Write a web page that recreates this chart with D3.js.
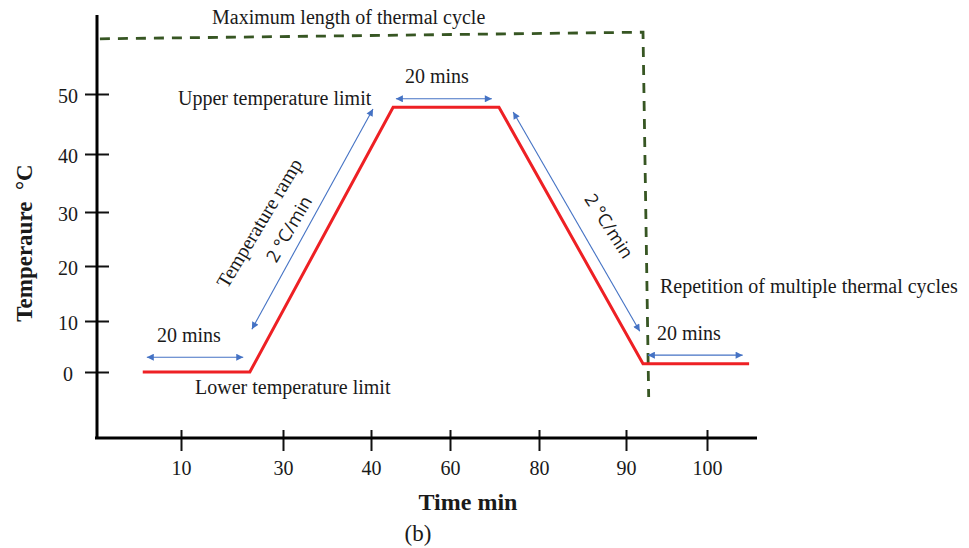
<!DOCTYPE html>
<html>
<head>
<meta charset="utf-8">
<script src="https://cdn.jsdelivr.net/npm/d3@7"></script>
<style>
  body { margin: 0; background: #fff; }
  text { font-family: "Liberation Serif", "Times New Roman", serif; fill: #1a1a1a; }
</style>
</head>
<body>
<div id="main"></div>
<script>
// ---- data (in axis units) ----
var xTickLabels = [10, 30, 40, 60, 80, 90, 100];
var yTickValues = [0, 10, 20, 30, 40, 50];

// the thermal cycle profile (red)
var profileTime = [2.5, 23.5, 45.6, 71.0, 92.1, 105.2];
var profileTemp = [0, 0, 47.8, 47.8, 1.6, 1.6];

// the dashed "maximum length" frame (green)
var cycleTime = [-5.9, 92.1, 92.8];
var cycleTemp = [59.2, 60.3, -4.9];

// double headed blue arrows: [t1, T1, t2, T2]
var arrows = [
    [3.3, 2.9, 22.2, 2.9],
    [23.9, 8.4, 40.5, 47.5],
    [46.3, 49.2, 69.4, 49.2],
    [74.2, 47.0, 91.7, 8.0],
    [92.7, 3.3, 104.4, 3.3]
];

var ctx = {
    w: 969,
    h: 548,
    // the hand drawn axis is not evenly spaced, so the scales are piecewise
    xTickPos: [181, 283, 371, 450, 539, 626, 707],
    yTickPos: [372, 321, 266, 212, 154, 94],
    left: 97,
    right: 757,
    top: 15,
    bottom: 438,
    red: "#ee2024",
    blue: "#4472c4",
    green: "#375623"
};

var createChart = function(svg) {
    var x = d3.scaleLinear().domain(xTickLabels).range(ctx.xTickPos);
    var y = d3.scaleLinear().domain(yTickValues).range(ctx.yTickPos);

    // 1. arrow head marker
    svg.append("defs").append("marker")
        .attr("id", "head")
        .attr("viewBox", "0 0 10 10")
        .attr("refX", 10)
        .attr("refY", 5)
        .attr("markerWidth", 8)
        .attr("markerHeight", 7)
        .attr("markerUnits", "userSpaceOnUse")
        .attr("orient", "auto-start-reverse")
        .append("path")
        .attr("d", "M0,0 L10,5 L0,10 z")
        .style("fill", ctx.blue);

    // 2. axes
    // 2.a x axis, ticks cross the line
    var gx = svg.append("g")
        .attr("transform", "translate(0," + ctx.bottom + ")")
        .call(d3.axisBottom(x).tickValues(xTickLabels).tickSizeInner(13).tickSizeOuter(0));
    gx.select(".domain").remove();
    gx.selectAll(".tick line").attr("y1", -8).style("stroke", "#111").style("stroke-width", 2);
    gx.selectAll(".tick text")
        .attr("y", 37).attr("dy", 0)
        .style("font-size", "20px")
        .style("font-family", "Liberation Serif");

    // 2.b y axis
    var gy = svg.append("g")
        .attr("transform", "translate(" + ctx.left + ",0)")
        .call(d3.axisLeft(y).tickValues(yTickValues).tickSizeInner(12).tickSizeOuter(0));
    gy.select(".domain").remove();
    gy.selectAll(".tick line").attr("x1", 12).style("stroke", "#111").style("stroke-width", 2);
    gy.selectAll(".tick text")
        .attr("x", -29).attr("dy", "0.4em")
        .style("text-anchor", "middle")
        .style("font-size", "20px")
        .style("font-family", "Liberation Serif");

    // 2.c the two thick axis lines
    svg.append("path")
        .attr("d", "M" + ctx.left + "," + ctx.top + "V" + (ctx.bottom + 1.5) + "M" + (ctx.left - 2) + "," + ctx.bottom + "H" + ctx.right)
        .style("fill", "none")
        .style("stroke", "#000")
        .style("stroke-width", 3);

    // 3. dashed frame
    var line = d3.line()
        .x(function(d) { return x(d[0]); })
        .y(function(d) { return y(d[1]); });
    svg.append("path")
        .datum(d3.zip(cycleTime, cycleTemp))
        .attr("d", line)
        .style("fill", "none")
        .style("stroke", ctx.green)
        .style("stroke-width", 2.8)
        .style("stroke-dasharray", "10,8");

    // 4. the temperature profile
    svg.append("path")
        .datum(d3.zip(profileTime, profileTemp))
        .attr("d", line)
        .style("fill", "none")
        .style("stroke", ctx.red)
        .style("stroke-width", 3)
        .style("stroke-linejoin", "miter");

    // 5. blue arrows
    svg.selectAll("line.arrow")
        .data(arrows)
        .enter()
        .append("line")
        .attr("class", "arrow")
        .attr("x1", function(d) { return x(d[0]); })
        .attr("y1", function(d) { return y(d[1]); })
        .attr("x2", function(d) { return x(d[2]); })
        .attr("y2", function(d) { return y(d[3]); })
        .style("stroke", ctx.blue)
        .style("stroke-width", 1.1)
        .attr("marker-start", "url(#head)")
        .attr("marker-end", "url(#head)");

    // 6. annotations
    var notes = [
        {t: "Maximum length of thermal cycle", x: 212, y: 24},
        {t: "Upper temperature limit", x: 178, y: 105},
        {t: "20 mins", x: 405, y: 83},
        {t: "20 mins", x: 157, y: 342},
        {t: "20 mins", x: 657, y: 340},
        {t: "Lower temperature limit", x: 195, y: 394},
        {t: "Repetition of multiple thermal cycles", x: 660, y: 293}
    ];
    svg.selectAll("text.note")
        .data(notes)
        .enter()
        .append("text")
        .attr("class", "note")
        .attr("x", function(d) { return d.x; })
        .attr("y", function(d) { return d.y; })
        .style("font-size", "20px")
        .text(function(d) { return d.t; });

    // rotated ones
    svg.append("text")
        .attr("transform", "translate(259,223) rotate(-59)")
        .attr("text-anchor", "middle")
        .attr("dy", "0.35em")
        .style("font-size", "20px")
        .text("Temperature ramp");
    svg.append("text")
        .attr("transform", "translate(289,229) rotate(-60)")
        .attr("text-anchor", "middle")
        .attr("dy", "0.35em")
        .style("font-family", "'Open Sans', sans-serif")
        .style("font-size", "18px")
        .text("2 \u00B0C/min");
    svg.append("text")
        .attr("transform", "translate(609,226) rotate(57)")
        .attr("text-anchor", "middle")
        .attr("dy", "0.35em")
        .style("font-family", "'Open Sans', sans-serif")
        .style("font-size", "18px")
        .text("2 \u00B0C/min");

    // 7. axis titles
    svg.append("text")
        .attr("transform", "translate(24,243) rotate(-90)")
        .attr("text-anchor", "middle")
        .attr("dy", "0.35em")
        .style("font-size", "23px")
        .style("font-weight", "bold")
        .text("Temperaure \u00A0\u00B0C");
    svg.append("text")
        .attr("x", 468)
        .attr("y", 510)
        .attr("text-anchor", "middle")
        .style("font-size", "24px")
        .style("font-weight", "bold")
        .text("Time min");
    svg.append("text")
        .attr("x", 418)
        .attr("y", 541)
        .attr("text-anchor", "middle")
        .style("font-size", "23px")
        .text("(b)");
};

var createViz = function() {
    var svgEl = d3.select("#main").append("svg");
    svgEl.attr("width", ctx.w);
    svgEl.attr("height", ctx.h);
    createChart(svgEl);
};

createViz();
</script>
</body>
</html>
